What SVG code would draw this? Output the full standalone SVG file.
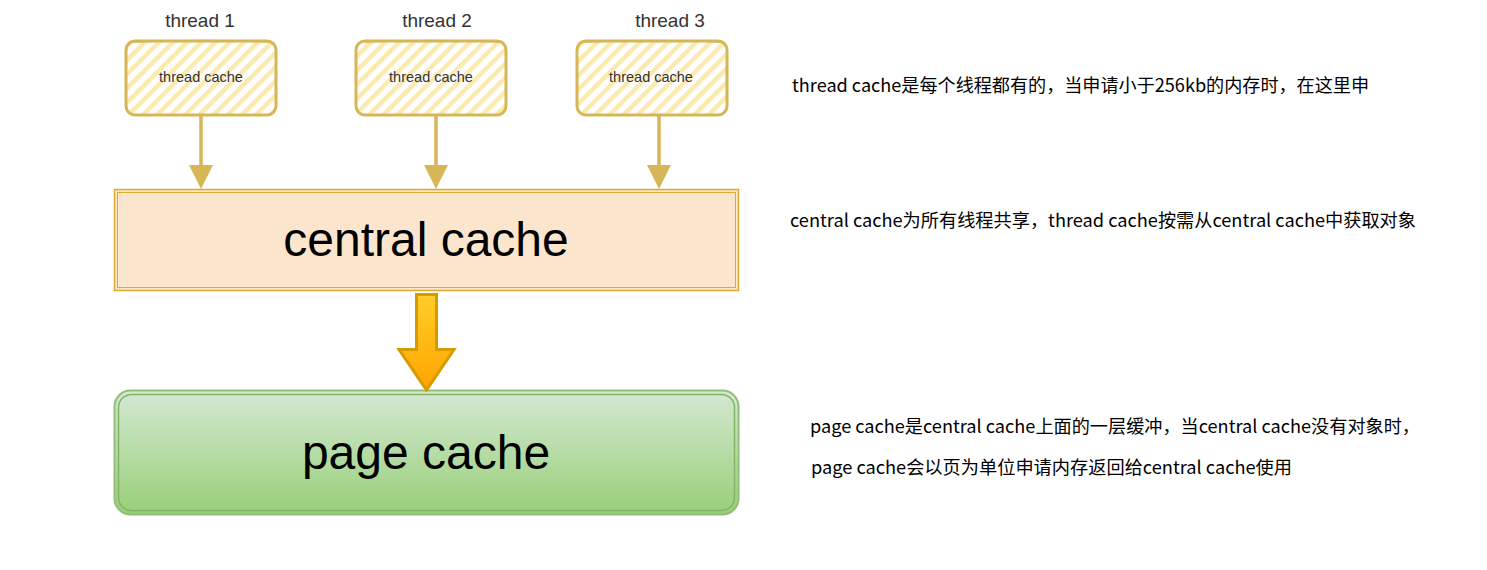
<svg xmlns="http://www.w3.org/2000/svg" width="1487" height="570" viewBox="0 0 1487 570">
<defs>
<pattern id="hatch" patternUnits="userSpaceOnUse" width="10" height="10" patternTransform="rotate(45)">
<rect width="10" height="10" fill="#ffffff"/>
<rect x="0" y="0" width="4.5" height="10" fill="#fbeab0"/>
</pattern>
<linearGradient id="gPage" x1="0" y1="0" x2="0" y2="1">
<stop offset="0" stop-color="#d5e8d4"/>
<stop offset="1" stop-color="#97d077"/>
</linearGradient>
<linearGradient id="gArrow" x1="0" y1="0" x2="0" y2="1">
<stop offset="0" stop-color="#ffcd28"/>
<stop offset="1" stop-color="#ffa500"/>
</linearGradient>
</defs>
<style>
.lbl{font-family:"Liberation Sans",Arial,sans-serif;fill:#333333;text-anchor:middle}
.tbox{fill:url(#hatch);stroke:#d6b656;stroke-width:3}
.big{font-family:"Liberation Sans",Arial,sans-serif;font-size:48px;fill:#000;text-anchor:middle}
.note{font-family:"Microsoft YaHei","Noto Sans CJK SC",sans-serif;font-size:18px;fill:#000}
.conn{stroke:#d6b656;stroke-width:3.5;fill:none}
.ahead{fill:#d6b656}
</style>
<rect width="1487" height="570" fill="#ffffff"/>

<g id="thread1">
<text class="lbl" x="200" y="27" font-size="19">thread 1</text>
<rect class="tbox" x="126" y="41" width="150" height="74" rx="9"/>
<path d="M134,42 Q200,39 270,42" stroke="#d6b656" stroke-width="1.5" fill="none"/>
<text class="lbl" x="201" y="82" font-size="14.5">thread cache</text>
</g>
<g id="thread2">
<text class="lbl" x="437" y="27" font-size="19">thread 2</text>
<rect class="tbox" x="356" y="41" width="150" height="74" rx="9"/>
<path d="M364,42 Q430,39 500,42" stroke="#d6b656" stroke-width="1.5" fill="none"/>
<text class="lbl" x="431" y="82" font-size="14.5">thread cache</text>
</g>
<g id="thread3">
<text class="lbl" x="670" y="27" font-size="19">thread 3</text>
<rect class="tbox" x="577" y="41" width="150" height="74" rx="9"/>
<path d="M585,42 Q650,39 721,42" stroke="#d6b656" stroke-width="1.5" fill="none"/>
<text class="lbl" x="651" y="82" font-size="14.5">thread cache</text>
</g>

<g id="central">
<rect x="114.5" y="189.5" width="624" height="101" fill="#fce5cd" stroke="#dcac2c" stroke-width="1.5"/>
<rect x="117.5" y="192.5" width="618" height="95" fill="none" stroke="#dcac2c" stroke-width="1"/>
<text class="big" x="426" y="256">central cache</text>
</g>

<g id="page">
<rect x="114.5" y="390.5" width="624" height="124" rx="16" fill="url(#gPage)" stroke="#92bf78" stroke-width="2"/>
<rect x="118.5" y="394.5" width="616" height="116" rx="13" fill="none" stroke="#82b366" stroke-width="1.5"/>
<text class="big" x="426" y="469">page cache</text>
</g>

<g id="connectors">
<line class="conn" x1="201" y1="116" x2="201" y2="170"/>
<path class="ahead" d="M189,165 L213,165 L201,189 Z"/>
<line class="conn" x1="436" y1="116" x2="436" y2="170"/>
<path class="ahead" d="M424,165 L448,165 L436,189 Z"/>
<line class="conn" x1="659" y1="116" x2="659" y2="170"/>
<path class="ahead" d="M647,165 L671,165 L659,189 Z"/>
<path d="M416.5,294.5 L436.5,294.5 L436.5,349.5 L454,349.5 L426.5,390 L399,349.5 L416.5,349.5 Z" fill="url(#gArrow)" stroke="#d79b00" stroke-width="3" stroke-linejoin="miter"/>
</g>

<g id="notes">
<text class="note" x="792" y="92" textLength="577" lengthAdjust="spacingAndGlyphs">thread cache是每个线程都有的，当申请小于256kb的内存时，在这里申</text>
<text class="note" x="790" y="227" textLength="626" lengthAdjust="spacingAndGlyphs">central cache为所有线程共享，thread cache按需从central cache中获取对象</text>
<text class="note" x="810" y="433" textLength="610" lengthAdjust="spacingAndGlyphs">page cache是central cache上面的一层缓冲，当central cache没有对象时，</text>
<text class="note" x="811" y="474" textLength="481" lengthAdjust="spacingAndGlyphs">page cache会以页为单位申请内存返回给central cache使用</text>
</g>
</svg>
